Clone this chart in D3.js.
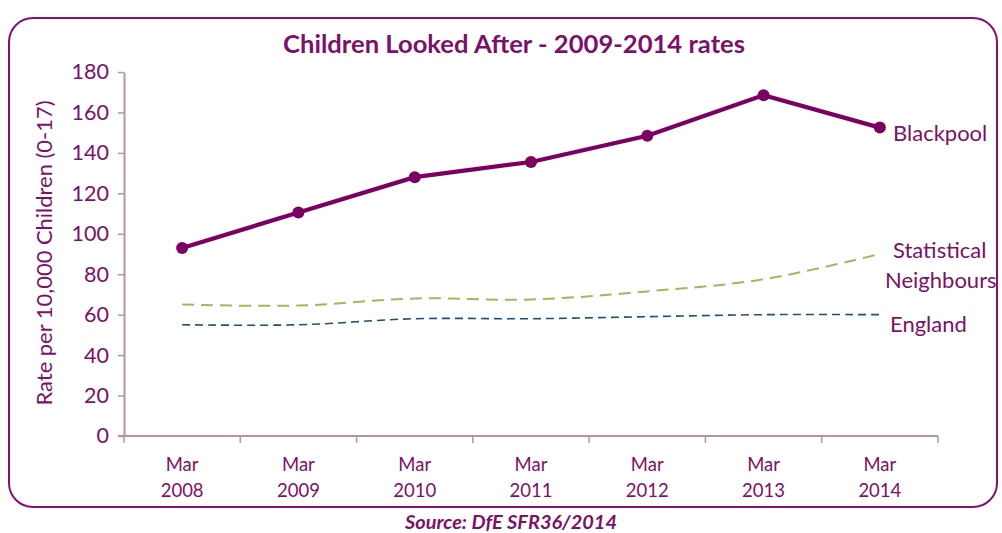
<!DOCTYPE html>
<html>
<head>
<meta charset="utf-8">
<script src="https://cdn.jsdelivr.net/npm/d3@7"></script>
<style>
  html, body { margin: 0; padding: 0; background: #ffffff; }
  svg { display: block; }
  text { font-family: Lato, "Open Sans", sans-serif; }
</style>
</head>
<body>
<svg id="chart" width="1002" height="533"></svg>
<script>
// Rates per 10,000 children aged 0-17, as at 31 March each year
const years = ["2008", "2009", "2010", "2011", "2012", "2013", "2014"];
const blackpool = [93, 110.5, 128, 135.5, 148.5, 168.5, 152.5];
const statNeighbours = [65, 64.5, 68, 67.5, 71.5, 77.5, 90];
const england = [55, 55, 58, 58, 59, 60, 60];
const yTicks = [0, 20, 40, 60, 80, 100, 120, 140, 160, 180];

const purple = "#7b0062";
const textPurple = "#7d1068";
const axisColour = "#b393ad";

const svg = d3.select("#chart");

// Rounded frame around the chart
svg.append("rect")
  .attr("x", 9).attr("y", 18)
  .attr("width", 988).attr("height", 489)
  .attr("rx", 24).attr("ry", 24)
  .attr("fill", "#fff")
  .attr("stroke", "#85106f")
  .attr("stroke-width", 2);

svg.append("text")
  .attr("x", 514).attr("y", 53)
  .attr("text-anchor", "middle")
  .attr("font-size", 25).attr("font-weight", "bold")
  .attr("fill", textPurple)
  .attr("textLength", 462).attr("lengthAdjust", "spacingAndGlyphs")
  .text("Children Looked After - 2009-2014 rates");

const x = d3.scaleBand().domain(years).range([124, 938]);
const y = d3.scaleLinear().domain([0, 180]).range([436, 72]);
const cx = d => x(d) + x.bandwidth() / 2;

// Y axis
const yAxis = svg.append("g")
  .attr("transform", "translate(124,0)")
  .call(d3.axisLeft(y).tickValues(yTicks).tickSize(6).tickSizeOuter(0).tickPadding(9));
yAxis.select(".domain").attr("stroke", axisColour).attr("stroke-width", 2);
yAxis.selectAll(".tick line").attr("stroke", axisColour).attr("stroke-width", 1.5);
yAxis.selectAll(".tick text")
  .attr("fill", textPurple).attr("font-size", 21.5)
  .attr("font-family", "Lato, 'Open Sans', sans-serif");

// X axis with ticks at category boundaries
const xAxisG = svg.append("g").attr("transform", "translate(0,436)");
xAxisG.append("line")
  .attr("x1", 118).attr("x2", 938)
  .attr("stroke", axisColour).attr("stroke-width", 2);
const bounds = years.map(d => x(d)).concat([x.range()[1]]);
xAxisG.selectAll("line.tk").data(bounds).join("line")
  .attr("class", "tk")
  .attr("x1", d => d).attr("x2", d => d)
  .attr("y1", 0).attr("y2", 7)
  .attr("stroke", axisColour).attr("stroke-width", 1.5);
const xl = xAxisG.selectAll("text.xl").data(years).join("text")
  .attr("class", "xl")
  .attr("text-anchor", "middle")
  .attr("fill", textPurple).attr("font-size", 18.5);
xl.append("tspan").attr("x", d => cx(d)).attr("y", 35).text("Mar");
xl.append("tspan").attr("x", d => cx(d)).attr("y", 61).text(d => d);

// Y axis title
svg.append("text")
  .attr("transform", "translate(52,253) rotate(-90)")
  .attr("text-anchor", "middle")
  .attr("font-size", 21.5)
  .attr("fill", textPurple)
  .attr("textLength", 305).attr("lengthAdjust", "spacingAndGlyphs")
  .text("Rate per 10,000 Children (0-17)");

const smooth = d3.line().x((d, i) => cx(years[i])).y(d => y(d)).curve(d3.curveCatmullRom.alpha(0.5));
const straight = d3.line().x((d, i) => cx(years[i])).y(d => y(d));

svg.append("path").datum(england)
  .attr("d", smooth).attr("fill", "none")
  .attr("stroke", "#1f4e79").attr("stroke-width", 1.6)
  .attr("stroke-dasharray", "8,5");

svg.append("path").datum(statNeighbours)
  .attr("d", smooth).attr("fill", "none")
  .attr("stroke", "#9bbb59").attr("stroke-width", 2)
  .attr("stroke-dasharray", "12,7");

svg.append("path").datum(blackpool)
  .attr("d", straight).attr("fill", "none")
  .attr("stroke", purple).attr("stroke-width", 4.2);

svg.selectAll("circle.bp").data(blackpool).join("circle")
  .attr("class", "bp")
  .attr("cx", (d, i) => cx(years[i]))
  .attr("cy", d => y(d))
  .attr("r", 6)
  .attr("fill", purple);

// Series labels at the right end of each line
const lab = (txt, lx, ly) => svg.append("text")
  .attr("x", lx).attr("y", ly)
  .attr("font-size", 22).attr("fill", textPurple)
  .text(txt);
lab("Blackpool", 893, 141);
lab("Statistical", 893, 258);
lab("Neighbours", 885, 288);
lab("England", 890, 332);

svg.append("text")
  .attr("x", 511).attr("y", 529)
  .attr("text-anchor", "middle")
  .attr("font-size", 19).attr("font-weight", "bold").attr("font-style", "italic")
  .attr("fill", textPurple)
  .attr("textLength", 212).attr("lengthAdjust", "spacingAndGlyphs")
  .text("Source: DfE SFR36/2014");
</script>
</body>
</html>
